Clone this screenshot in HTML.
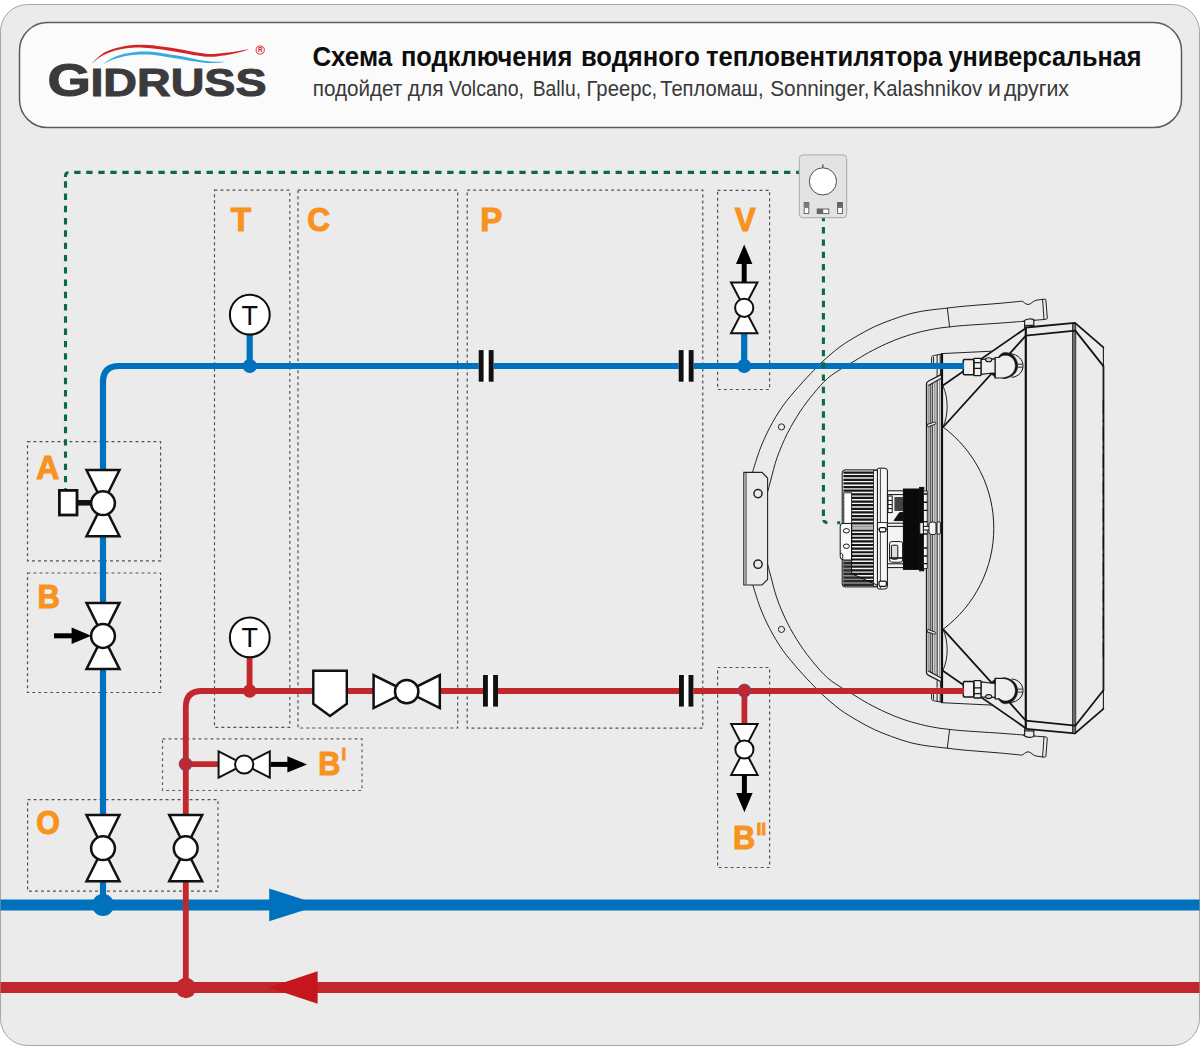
<!DOCTYPE html>
<html lang="ru"><head><meta charset="utf-8"><title>Схема подключения водяного тепловентилятора</title>
<style>html,body{margin:0;padding:0;background:#fff}svg{display:block}text{font-family:"Liberation Sans",sans-serif}</style></head><body>
<svg width="1200" height="1046" viewBox="0 0 1200 1046">
<rect x="0.5" y="4.5" width="1199" height="1041" rx="27" ry="27" fill="#ebebeb" stroke="#a6a6a6" stroke-width="1"/>
<rect x="19.5" y="22.6" width="1162" height="105" rx="28" ry="28" fill="#fbfbfb" stroke="#5c5c5c" stroke-width="1.5"/>
<g id="logo">
<path d="M92.1,63.5 C93.33,62.26 96.73,58.24 99.5,56.08 C102.27,53.91 104.45,52.23 108.7,50.53 C112.95,48.83 119.18,46.86 125,45.89 C130.82,44.92 137.43,44.64 143.6,44.74 C149.77,44.83 155.93,45.69 162,46.46 C168.07,47.23 174.17,48.35 180,49.36 C185.83,50.37 191.72,51.75 197,52.54 C202.28,53.32 206.2,54.12 211.7,54.09 C217.2,54.06 225.28,52.9 230,52.33 C234.72,51.76 236.72,51.25 240,50.68 C243.28,50.1 248.08,49.2 249.7,48.9 L249.7,48.9 C248.08,49.44 243.28,51.2 240,52.12 C236.72,53.05 234.72,53.71 230,54.47 C225.28,55.24 217.2,56.54 211.7,56.71 C206.2,56.88 202.28,56.18 197,55.46 C191.72,54.75 185.83,53.43 180,52.44 C174.17,51.45 168.07,50.34 162,49.54 C155.93,48.74 149.77,47.84 143.6,47.66 C137.43,47.49 130.82,47.68 125,48.51 C119.18,49.34 112.95,51.17 108.7,52.67 C104.45,54.17 102.27,55.72 99.5,57.52 C96.73,59.33 93.33,62.5 92.1,63.5 Z" fill="#d2232a"/>
<path d="M103.2,64 C104.83,62.97 109.43,59.5 113,57.81 C116.57,56.12 120.77,54.83 124.6,53.85 C128.43,52.87 132.05,52.3 136,51.92 C139.95,51.55 143.63,51.37 148.3,51.61 C152.97,51.86 158.72,52.66 164,53.41 C169.28,54.17 174.5,55.12 180,56.12 C185.5,57.13 191.72,58.55 197,59.45 C202.28,60.35 207.02,61.1 211.7,61.51 C216.38,61.92 222.87,61.84 225.1,61.9 L225.1,61.9 C222.87,62.1 216.38,63.11 211.7,63.09 C207.02,63.06 202.28,62.45 197,61.75 C191.72,61.05 185.5,59.77 180,58.88 C174.5,57.98 169.28,57.1 164,56.39 C158.72,55.67 152.97,54.87 148.3,54.59 C143.63,54.3 139.95,54.42 136,54.68 C132.05,54.94 128.43,55.37 124.6,56.15 C120.77,56.94 116.57,58.08 113,59.39 C109.43,60.7 104.83,63.23 103.2,64 Z" fill="#39a9e0"/>
<text transform="translate(47.5,96.3) scale(1.19,1)" font-size="47" font-weight="700" fill="#3b3b3d" stroke="#3b3b3d" stroke-width="1.1">G</text>
<text x="90.4" y="95.8" font-size="38.8" font-weight="700" fill="#3b3b3d" stroke="#3b3b3d" stroke-width="1" textLength="176.2" lengthAdjust="spacingAndGlyphs">IDRUSS</text>
<circle cx="260.2" cy="50" r="4.1" fill="none" stroke="#d2232a" stroke-width="0.9"/>
<text x="260.2" y="52.3" font-size="6.4" font-weight="700" fill="#d2232a" text-anchor="middle">R</text>
</g>
<g id="title"><text x="312.4" y="65.9" font-size="28" font-weight="700" fill="#0d0d0d" textLength="79.8" lengthAdjust="spacingAndGlyphs">Схема</text><text x="401" y="65.9" font-size="28" font-weight="700" fill="#0d0d0d" textLength="171.25" lengthAdjust="spacingAndGlyphs">подключения</text><text x="581" y="65.9" font-size="28" font-weight="700" fill="#0d0d0d" textLength="118.75" lengthAdjust="spacingAndGlyphs">водяного</text><text x="706" y="65.9" font-size="28" font-weight="700" fill="#0d0d0d" textLength="236.25" lengthAdjust="spacingAndGlyphs">тепловентилятора</text><text x="948.5" y="65.9" font-size="28" font-weight="700" fill="#0d0d0d" textLength="193" lengthAdjust="spacingAndGlyphs">универсальная</text></g>
<g id="subtitle"><text x="312.75" y="95.7" font-size="21.3" fill="#383838" textLength="89.5" lengthAdjust="spacingAndGlyphs">подойдет</text><text x="407.75" y="95.7" font-size="21.3" fill="#383838" textLength="35.75" lengthAdjust="spacingAndGlyphs">для</text><text x="449" y="95.7" font-size="21.3" fill="#383838" textLength="75" lengthAdjust="spacingAndGlyphs">Volcano,</text><text x="532.75" y="95.7" font-size="21.3" fill="#383838" textLength="48.25" lengthAdjust="spacingAndGlyphs">Ballu,</text><text x="586.5" y="95.7" font-size="21.3" fill="#383838" textLength="70.75" lengthAdjust="spacingAndGlyphs">Греерс,</text><text x="660.25" y="95.7" font-size="21.3" fill="#383838" textLength="103.25" lengthAdjust="spacingAndGlyphs">Тепломаш,</text><text x="770.25" y="95.7" font-size="21.3" fill="#383838" textLength="99.25" lengthAdjust="spacingAndGlyphs">Sonninger,</text><text x="872.75" y="95.7" font-size="21.3" fill="#383838" textLength="109.5" lengthAdjust="spacingAndGlyphs">Kalashnikov</text><text x="987.75" y="95.7" font-size="21.3" fill="#383838" textLength="13.25" lengthAdjust="spacingAndGlyphs">и</text><text x="1004" y="95.7" font-size="21.3" fill="#383838" textLength="65" lengthAdjust="spacingAndGlyphs">других</text></g>
<g id="boxes">
<rect x="214.5" y="190.2" width="75.3" height="537.2" fill="none" stroke="#505050" stroke-width="1.2" stroke-dasharray="2.9 3.1"/>
<rect x="298" y="190.2" width="159.7" height="537.8" fill="none" stroke="#505050" stroke-width="1.2" stroke-dasharray="2.9 3.1"/>
<rect x="467.2" y="190.2" width="235.6" height="538" fill="none" stroke="#505050" stroke-width="1.2" stroke-dasharray="2.9 3.1"/>
<rect x="717.6" y="190.3" width="52" height="199.2" fill="none" stroke="#505050" stroke-width="1.2" stroke-dasharray="2.9 3.1"/>
<rect x="717.6" y="667.5" width="52" height="200" fill="none" stroke="#505050" stroke-width="1.2" stroke-dasharray="2.9 3.1"/>
<rect x="27.5" y="441.6" width="133.1" height="119.2" fill="none" stroke="#505050" stroke-width="1.2" stroke-dasharray="2.9 3.1"/>
<rect x="27.5" y="573" width="133.1" height="119.5" fill="none" stroke="#505050" stroke-width="1.2" stroke-dasharray="2.9 3.1"/>
<rect x="162.5" y="738.9" width="199.5" height="51.6" fill="none" stroke="#5e5e5e" stroke-width="1.2" stroke-dasharray="2.9 3.1"/>
<rect x="27.6" y="799.6" width="190.4" height="91.5" fill="none" stroke="#505050" stroke-width="1.2" stroke-dasharray="2.9 3.1"/>
</g>
<g id="heater">
<g fill="none" stroke="#1c1c1c" stroke-linecap="butt">
<path d="M1025.8,327.5 V728.8" stroke-width="2.2" stroke="#141414"/>
<path d="M1072.6,323.2 V733.2" stroke-width="1.2" stroke="#333"/>
<path d="M1075.6,323 V733.4" stroke-width="1.2" stroke="#333"/>
<path d="M1074.1,324 V732" stroke-width="2.6" stroke="#6c6c6c"/>
<path d="M1103.4,347.4 V708.9" stroke-width="1.1"/><path d="M1103.5,366 V690.3" stroke-width="1.7"/>
<path d="M1103.4,400 V660" stroke-width="1.3" stroke-dasharray="14 5 3 5" stroke="#111"/>
<path d="M942,353.6 V702.7" stroke-width="2.2" stroke="#111"/>
<path d="M943,427 A126.1,126.1 0 0 1 943,629.3" stroke-width="1"/>
</g>
<g fill="none" stroke="#222" stroke-width="1" stroke-linecap="round" stroke-linejoin="round"><path d="M752.5,472.4 C753.73,468.58 757.03,456.95 759.9,449.5 C762.77,442.05 765.87,434.97 769.7,427.7 C773.53,420.43 778.03,412.78 782.9,405.9 C787.77,399.02 793.75,392.33 798.9,386.4 C804.05,380.47 809.78,374.52 813.8,370.3 C817.82,366.08 818.63,365.02 823,361.1 C827.37,357.18 834.3,351 840,346.8 C845.7,342.6 851.47,339.25 857.2,335.9 C862.93,332.55 868.67,329.38 874.4,326.7 C880.13,324.02 885.87,321.9 891.6,319.8 C897.33,317.7 903.07,315.63 908.8,314.1 C914.53,312.57 919.58,311.6 926,310.6 C932.42,309.6 941.63,308.77 947.3,308.1 C952.97,307.43 954.55,307.13 960,306.6 C965.45,306.07 973.33,305.45 980,304.9 C986.67,304.35 993.08,303.92 1000,303.3 C1006.92,302.68 1017.92,301.55 1021.5,301.2 C1023.5,301 1025,304.4 1028,304.5 C1031,304.6 1033,300.7 1036,300.3 L1042.5,299.3 L1045,299.2 Q1045.8,299.2 1045.9,300 L1047.3,318 Q1047.4,318.9 1046.4,319.1 L1044,319.5 L1034,320.3"/><path d="M1042.6,299.5 L1044,319.4"/><path d="M767.6,492 C768.13,490 769.22,485.75 770.8,480 C772.38,474.25 774.33,465.27 777.1,457.5 C779.87,449.73 783.57,441.05 787.4,433.4 C791.23,425.75 795.7,418.28 800.1,411.6 C804.5,404.92 809.22,398.83 813.8,393.3 C818.38,387.77 822.82,382.62 827.6,378.4 C832.38,374.18 837.92,370.97 842.5,368 C847.08,365.03 850.73,363.18 855.1,360.6 C859.47,358.02 863.57,355.28 868.7,352.5 C873.83,349.72 880.17,346.48 885.9,343.9 C891.63,341.32 897.37,339 903.1,337 C908.83,335 914.57,333.33 920.3,331.9 C926.03,330.47 932.62,329.23 937.5,328.4 C942.38,327.57 945.85,327.33 949.6,326.9 C953.35,326.47 954.93,326.22 960,325.8 C965.07,325.38 973.33,324.85 980,324.4 C986.67,323.95 992.75,323.62 1000,323.1 C1007.25,322.58 1019.58,321.6 1023.5,321.3"/><path d="M947.3,308.1 L949.6,326.9"/><path d="M1024.6,321.4 V327.4 M1033.8,320.4 V326.8 M1023.5,321.3 C1026,318.5 1032,318.3 1034.4,320.3 M1024.6,325.7 L1033.8,325.1" stroke-width="1.2"/><circle cx="781.5" cy="426.9" r="3.1"/><path d="M1025.8,327.5 L1075,322.9 L1103.4,347.4" stroke-width="1.8" stroke="#141414"/><path d="M1025.8,335.6 L1075.3,330.6 L1103.4,366.1" stroke-width="1.8" stroke="#141414"/><path d="M942.5,385.8 L1025.4,328.4" stroke-width="1.8" stroke="#141414"/><path d="M943.2,427 L1025.4,336.2" stroke-width="1.8" stroke="#141414"/><path d="M941.4,353.6 L991.8,351.2"/><path d="M943,386 C948.6,398 948.6,415 943,427"/><path d="M931.6,363 V357.4 C931.6,355.8 933.2,355.6 934.6,355.4 L941,354.2 M933.6,357 V363 M937.1,355.4 V363 M940.2,354.6 V363 M937.1,369 V375.6 M940.4,369 V375" stroke="#1e1e1e"/><path d="M930.2,383.8 L937.2,380.4 V528.5 H930.2 Z" fill="#d6d6d6" stroke="none"/><path d="M926.5,528.5 V383.6 C926.5,382.2 927.4,381.6 928.6,381 L940.6,374.8" stroke="#1a1a1a" stroke-width="1.3"/><path d="M928.4,385.4 L940.8,378.6" stroke="#1a1a1a" stroke-width="1.1"/><path d="M930.2,528.5 V384.4 M932.3,528.5 V383.4 M937.2,528.5 V381" stroke="#262626" stroke-width="1"/><path d="M928.3,528.5 V385.4 M934.8,528.5 V382.4 M939.7,528.5 V379.6" stroke="#6a6a6a" stroke-width="0.8"/><path d="M927.4,424.4 L934.6,422 C935.8,421.8 936.2,423.6 935.2,424.2 L928.2,426.8 C927,427 926.6,425 927.4,424.4 Z" fill="#ebebeb"/></g><g fill="#efefef" stroke="#161616" stroke-width="1.1" stroke-linejoin="round"><path d="M1010.3,353.7 C1018,354.5 1023,359.5 1023,365.7 C1023,372 1018.5,376.6 1011.7,377.4" fill="none" stroke-width="1"/><path d="M1017.8,364.2 H1022.8 M1017.8,367.2 H1022.8" fill="none" stroke-width="0.9"/><path d="M995,357.5 L998.3,357.5 C1000,354 1003,353 1005.5,353 C1012.5,353 1017,358.5 1017,365.7 C1017,373 1011,378 1003,378.3 L995,378 Z" stroke="none"/><path d="M998.3,357.3 C1000,354.2 1002.5,352.5 1005.5,352.5 C1012.5,352.7 1017.7,358.5 1017.7,365.7 C1017.7,373 1011.5,378.3 1003,378.7 L1003,377.7 C1010,377.1 1015.3,372.4 1015.3,365.7 C1015.3,359.4 1011,355.5 1005.5,355.3 C1003,355.3 1001,356.1 999.6,357.7 Z" fill="#141414" stroke-width="0.5"/><path d="M999,357.5 H995 V378 H1003" fill="none" stroke-width="1.2"/><path d="M981,359.4 L995,358.9 V373.2 L990.4,373.3 L981,374.4 Z"/><path d="M990.3,373.2 L995.2,373.2 L995.6,377.4 L993.2,375.6 Z" fill="#141414" stroke-width="0.6"/><ellipse cx="988.7" cy="359.7" rx="3.1" ry="2" fill="#d9d9d9"/><rect x="973.8" y="358.3" width="7.2" height="17.4" rx="0.8" stroke-width="1.3"/><path d="M973.8,362.6 H981 M973.8,368.4 H981" fill="none" stroke-width="1.2"/><rect x="963.3" y="359.4" width="10.5" height="15.3" rx="1.2" stroke-width="1.5"/></g>
<g transform="translate(0,1056.3) scale(1,-1)"><g fill="none" stroke="#222" stroke-width="1" stroke-linecap="round" stroke-linejoin="round"><path d="M752.5,472.4 C753.73,468.58 757.03,456.95 759.9,449.5 C762.77,442.05 765.87,434.97 769.7,427.7 C773.53,420.43 778.03,412.78 782.9,405.9 C787.77,399.02 793.75,392.33 798.9,386.4 C804.05,380.47 809.78,374.52 813.8,370.3 C817.82,366.08 818.63,365.02 823,361.1 C827.37,357.18 834.3,351 840,346.8 C845.7,342.6 851.47,339.25 857.2,335.9 C862.93,332.55 868.67,329.38 874.4,326.7 C880.13,324.02 885.87,321.9 891.6,319.8 C897.33,317.7 903.07,315.63 908.8,314.1 C914.53,312.57 919.58,311.6 926,310.6 C932.42,309.6 941.63,308.77 947.3,308.1 C952.97,307.43 954.55,307.13 960,306.6 C965.45,306.07 973.33,305.45 980,304.9 C986.67,304.35 993.08,303.92 1000,303.3 C1006.92,302.68 1017.92,301.55 1021.5,301.2 C1023.5,301 1025,304.4 1028,304.5 C1031,304.6 1033,300.7 1036,300.3 L1042.5,299.3 L1045,299.2 Q1045.8,299.2 1045.9,300 L1047.3,318 Q1047.4,318.9 1046.4,319.1 L1044,319.5 L1034,320.3"/><path d="M1042.6,299.5 L1044,319.4"/><path d="M767.6,492 C768.13,490 769.22,485.75 770.8,480 C772.38,474.25 774.33,465.27 777.1,457.5 C779.87,449.73 783.57,441.05 787.4,433.4 C791.23,425.75 795.7,418.28 800.1,411.6 C804.5,404.92 809.22,398.83 813.8,393.3 C818.38,387.77 822.82,382.62 827.6,378.4 C832.38,374.18 837.92,370.97 842.5,368 C847.08,365.03 850.73,363.18 855.1,360.6 C859.47,358.02 863.57,355.28 868.7,352.5 C873.83,349.72 880.17,346.48 885.9,343.9 C891.63,341.32 897.37,339 903.1,337 C908.83,335 914.57,333.33 920.3,331.9 C926.03,330.47 932.62,329.23 937.5,328.4 C942.38,327.57 945.85,327.33 949.6,326.9 C953.35,326.47 954.93,326.22 960,325.8 C965.07,325.38 973.33,324.85 980,324.4 C986.67,323.95 992.75,323.62 1000,323.1 C1007.25,322.58 1019.58,321.6 1023.5,321.3"/><path d="M947.3,308.1 L949.6,326.9"/><path d="M1024.6,321.4 V327.4 M1033.8,320.4 V326.8 M1023.5,321.3 C1026,318.5 1032,318.3 1034.4,320.3 M1024.6,325.7 L1033.8,325.1" stroke-width="1.2"/><circle cx="781.5" cy="426.9" r="3.1"/><path d="M1025.8,327.5 L1075,322.9 L1103.4,347.4" stroke-width="1.8" stroke="#141414"/><path d="M1025.8,335.6 L1075.3,330.6 L1103.4,366.1" stroke-width="1.8" stroke="#141414"/><path d="M942.5,385.8 L1025.4,328.4" stroke-width="1.8" stroke="#141414"/><path d="M943.2,427 L1025.4,336.2" stroke-width="1.8" stroke="#141414"/><path d="M941.4,353.6 L991.8,351.2"/><path d="M943,386 C948.6,398 948.6,415 943,427"/><path d="M931.6,363 V357.4 C931.6,355.8 933.2,355.6 934.6,355.4 L941,354.2 M933.6,357 V363 M937.1,355.4 V363 M940.2,354.6 V363 M937.1,369 V375.6 M940.4,369 V375" stroke="#1e1e1e"/><path d="M930.2,383.8 L937.2,380.4 V528.5 H930.2 Z" fill="#d6d6d6" stroke="none"/><path d="M926.5,528.5 V383.6 C926.5,382.2 927.4,381.6 928.6,381 L940.6,374.8" stroke="#1a1a1a" stroke-width="1.3"/><path d="M928.4,385.4 L940.8,378.6" stroke="#1a1a1a" stroke-width="1.1"/><path d="M930.2,528.5 V384.4 M932.3,528.5 V383.4 M937.2,528.5 V381" stroke="#262626" stroke-width="1"/><path d="M928.3,528.5 V385.4 M934.8,528.5 V382.4 M939.7,528.5 V379.6" stroke="#6a6a6a" stroke-width="0.8"/><path d="M927.4,424.4 L934.6,422 C935.8,421.8 936.2,423.6 935.2,424.2 L928.2,426.8 C927,427 926.6,425 927.4,424.4 Z" fill="#ebebeb"/></g><g fill="#efefef" stroke="#161616" stroke-width="1.1" stroke-linejoin="round"><path d="M1010.3,353.7 C1018,354.5 1023,359.5 1023,365.7 C1023,372 1018.5,376.6 1011.7,377.4" fill="none" stroke-width="1"/><path d="M1017.8,364.2 H1022.8 M1017.8,367.2 H1022.8" fill="none" stroke-width="0.9"/><path d="M995,357.5 L998.3,357.5 C1000,354 1003,353 1005.5,353 C1012.5,353 1017,358.5 1017,365.7 C1017,373 1011,378 1003,378.3 L995,378 Z" stroke="none"/><path d="M998.3,357.3 C1000,354.2 1002.5,352.5 1005.5,352.5 C1012.5,352.7 1017.7,358.5 1017.7,365.7 C1017.7,373 1011.5,378.3 1003,378.7 L1003,377.7 C1010,377.1 1015.3,372.4 1015.3,365.7 C1015.3,359.4 1011,355.5 1005.5,355.3 C1003,355.3 1001,356.1 999.6,357.7 Z" fill="#141414" stroke-width="0.5"/><path d="M999,357.5 H995 V378 H1003" fill="none" stroke-width="1.2"/><path d="M981,359.4 L995,358.9 V373.2 L990.4,373.3 L981,374.4 Z"/><path d="M990.3,373.2 L995.2,373.2 L995.6,377.4 L993.2,375.6 Z" fill="#141414" stroke-width="0.6"/><ellipse cx="988.7" cy="359.7" rx="3.1" ry="2" fill="#d9d9d9"/><rect x="973.8" y="358.3" width="7.2" height="17.4" rx="0.8" stroke-width="1.3"/><path d="M973.8,362.6 H981 M973.8,368.4 H981" fill="none" stroke-width="1.2"/><rect x="963.3" y="359.4" width="10.5" height="15.3" rx="1.2" stroke-width="1.5"/></g></g>
<g stroke="#222" stroke-width="1.1" fill="#ebebeb">
<path d="M743.8,472.4 H762 L767.6,478 V579.4 L762,585 H743.8 Z"/>
<path d="M746,473 V584.4" fill="none" stroke-width="0.9"/>
<circle cx="758" cy="493.6" r="4.1" stroke-width="1.5"/>
<circle cx="758" cy="564.2" r="4.1" stroke-width="1.5"/>
</g>
<g id="motor" stroke="#111" stroke-width="1" fill="#ebebeb">
<rect x="887.3" y="490.8" width="16.4" height="76.8" fill="#f4f4f4"/>
<path d="M887.3,494.6 H903.6 M887.3,563.8 H903.6 M887.3,523.2 H903.6 M887.3,526.4 H903.6" fill="none"/>
<rect x="888" y="496" width="4.2" height="16.6" fill="#fff"/>
<path d="M888,500.4 H892.2 M888,504.6 H892.2 M888,508.6 H892.2" fill="none"/>
<path d="M894.4,497 H903 V511 H894.4 Z" fill="#444" stroke="none"/>
<path d="M894,520.6 L899.6,512.6 H903.6 V520.6 Z" fill="#111"/>
<rect x="889.6" y="541.6" width="13" height="20.6" rx="2.2" fill="#fff"/>
<rect x="891.4" y="545.2" width="6.4" height="14" rx="1" fill="#ddd"/>
<path d="M889.6,558 H902.6" fill="none" stroke-width="1.6"/>
<rect x="903.4" y="489" width="18.4" height="80.4" fill="#0a0a0a"/>
<rect x="919.6" y="487.4" width="4.2" height="83.4" fill="#0a0a0a"/>
<rect x="923.6" y="491" width="3.6" height="77.4" fill="#f6f6f6" stroke-width="0.8"/>
<path d="M923.6,494 H927.2 M923.6,502.2 H927.2 M923.6,510.4 H927.2 M923.6,521.6 H927.2 M923.6,534 H927.2 M923.6,548 H927.2 M923.6,556 H927.2 M923.6,563.6 H927.2" fill="none" stroke-width="1.4"/>
<rect x="919.8" y="522.6" width="3.6" height="11.4" fill="#f4f4f4"/>
<rect x="923.4" y="526.4" width="7" height="3.6" fill="#f4f4f4"/>
<path d="M929,523.4 C931,521.6 934,521.6 936,523 L936,533.6 C934,535 931,535 929,533.2 Z" fill="#f4f4f4"/>
<rect x="937" y="521.8" width="3.4" height="12.4" rx="1.2" fill="#f4f4f4"/>
<path d="M845,469.9 H877.4 V586.9 H845 Q842.2,586.9 842.2,584 V472.8 Q842.2,469.9 845,469.9 Z" fill="#f2f2f2"/>
<path d="M843.4,472.6 H873.6 M843.4,476.22 H873.6 M843.4,479.84 H873.6 M843.4,483.46 H873.6 M843.4,487.08 H873.6 M843.4,490.7 H873.6 M843.4,494.32 H873.6 M843.4,497.94 H873.6 M843.4,501.56 H873.6 M843.4,505.18 H873.6 M843.4,508.8 H873.6 M843.4,512.42 H873.6 M843.4,516.04 H873.6 M843.4,519.66 H873.6 M843.4,523.28 H873.6 M843.4,526.9 H873.6 M843.4,530.52 H873.6 M843.4,534.14 H873.6 M843.4,537.76 H873.6 M843.4,541.38 H873.6 M843.4,545 H873.6 M843.4,548.62 H873.6 M843.4,552.24 H873.6 M843.4,555.86 H873.6 M843.4,559.48 H873.6 M843.4,563.1 H873.6 M843.4,566.72 H873.6 M843.4,570.34 H873.6 M843.4,573.96 H873.6 M843.4,577.58 H873.6 M843.4,581.2 H873.6 M843.4,584.82 H873.6" fill="none" stroke="#161616" stroke-width="2.2"/>
<rect x="851.8" y="526.2" width="22" height="3.2" fill="#b9b9b9" stroke="none"/>
<rect x="873.6" y="470.6" width="3.8" height="115.6" fill="#f4f4f4" stroke-width="0.8"/>
<path d="M877.4,469.2 Q877.4,468.2 879,468.2 H884.8 Q887.4,468.2 887.4,471 V586.2 Q887.4,589 884.8,589 H879 Q877.4,589 877.4,587.8 Z" fill="#f6f6f6"/>
<path d="M880.4,469 V588.4" fill="none" stroke-width="0.8"/>
<rect x="877.6" y="522.6" width="9.6" height="6.6" fill="#fff" stroke-width="0.9"/>
<rect x="879.4" y="527.6" width="6.4" height="4.2" rx="1.4" fill="#fff" stroke-width="1.2"/>
<rect x="879" y="581.2" width="7.4" height="5.2" rx="1.6" fill="#fff" stroke-width="1.2"/>
<rect x="843.8" y="492.8" width="7.8" height="30.8" fill="#fff" stroke="#222" stroke-width="0.9"/>
<path d="M842.8,523.4 H851.6 V560 H844 Q840.2,560 840.2,556.4 V526.2 Q840.2,523.4 842.8,523.4 Z" fill="#fafafa" stroke-width="1"/>
<ellipse cx="846.4" cy="530.8" rx="3" ry="2.2" fill="#fff"/>
<ellipse cx="846.4" cy="546.2" rx="3" ry="2.2" fill="#fff"/>
<path d="M840.4,553.6 C842.4,552.6 843.2,555 842.6,558.6" fill="none"/>
<path d="M843,560 H851.6 V573.6 L873.6,583.4 V586.2 H845 Q843,586.2 843,584 Z" fill="#3a3a3a" stroke="none" opacity="0.55"/>
<path d="M851.6,523.6 V573.6 L877,585" fill="none" stroke-width="1"/>
</g>
</g>
<g id="pipes" fill="none">
<path d="M103,905 V382 Q103,366 119,366 H964" stroke="#0071bc" stroke-width="6.2"/>
<path d="M249.7,334 V366 M744.2,332 V366" stroke="#0071bc" stroke-width="6.2"/>
<path d="M0.5,904.9 H1199.5" stroke="#0071bc" stroke-width="11"/>
<path d="M269.2,888.6 V921.2 L320.4,904.9 Z" fill="#0071bc"/>
<circle cx="249.8" cy="366" r="7.1" fill="#0071bc"/>
<circle cx="744.2" cy="366" r="7.1" fill="#0071bc"/>
<circle cx="103" cy="905" r="11" fill="#0071bc"/>
<path d="M185.8,988 V707 Q185.8,691 201.8,691 H964" stroke="#c1272d" stroke-width="5.8"/>
<path d="M249.6,657 V691 M185.8,764.2 H219 M744.4,691 V725" stroke="#c1272d" stroke-width="5.8"/>
<path d="M0.5,987.4 H1199.5" stroke="#c1272d" stroke-width="11"/>
<path d="M317.6,971.2 V1003.8 L268.8,987.4 Z" fill="#c4161c"/>
<circle cx="249.7" cy="691" r="6.7" fill="#c1272d"/>
<circle cx="185.6" cy="764.1" r="6.5" fill="#c1272d" stroke="#5c4a96" stroke-width="0.8"/>
<circle cx="744.4" cy="690.6" r="6.5" fill="#c1272d" stroke="#5c4a96" stroke-width="0.8"/>
<circle cx="185.9" cy="988" r="10.2" fill="#c1272d"/>
</g>
<g fill="none" stroke="#0b6a41" stroke-width="3.1">
<path d="M799.1,172.4 H69 Q65.5,172.4 65.5,176 V177" stroke-dasharray="6.3 5.73" stroke-dashoffset="3.25"/>
<path d="M65.5,181.25 V489.6" stroke-dasharray="6.4 5.88"/>
<path d="M823.4,217.8 V516.4" stroke-dasharray="6.4 5.88" stroke-dashoffset="2.98"/>
<path d="M823.9,520 Q824,522.5 827.4,522.6 M837.2,522.7 H840.2" stroke-linecap="butt"/>
</g>
<g id="thermostat">
<rect x="799.3" y="154.9" width="47.4" height="62.8" rx="3.6" fill="#e3e3e3" stroke="#a9a9a9" stroke-width="1"/>
<path d="M822.9,164.4 V168" stroke="#444" stroke-width="1.2"/>
<circle cx="822.9" cy="181.4" r="13.6" fill="#fff" stroke="#4d4d4d" stroke-width="1"/>
<rect x="804.2" y="202.5" width="4.6" height="11" fill="#fff" stroke="#555" stroke-width="0.9"/>
<rect x="804.2" y="202.5" width="4.6" height="5.4" fill="#777"/>
<rect x="837.6" y="202.5" width="4.8" height="11" fill="#fff" stroke="#555" stroke-width="0.9"/>
<rect x="837.6" y="202.5" width="4.8" height="5.4" fill="#666"/>
<rect x="817.2" y="209" width="11.6" height="4.6" fill="#fff" stroke="#555" stroke-width="0.9"/>
<rect x="817.2" y="209" width="6" height="4.6" fill="#666"/>
</g>
<g id="symbols">
<rect x="478.7" y="350.1" width="14.9" height="31.6" fill="#fff"/><rect x="478.7" y="350.1" width="4.9" height="31.6" fill="#111"/><rect x="488.7" y="350.1" width="4.9" height="31.6" fill="#111"/>
<rect x="678.7" y="350.1" width="14.9" height="31.6" fill="#fff"/><rect x="678.7" y="350.1" width="4.9" height="31.6" fill="#111"/><rect x="688.7" y="350.1" width="4.9" height="31.6" fill="#111"/>
<rect x="483" y="675" width="15" height="31.6" fill="#fff"/><rect x="483" y="675" width="4.9" height="31.6" fill="#111"/><rect x="493.1" y="675" width="4.9" height="31.6" fill="#111"/>
<rect x="679" y="675" width="14.4" height="31.6" fill="#fff"/><rect x="679" y="675" width="4.9" height="31.6" fill="#111"/><rect x="688.5" y="675" width="4.9" height="31.6" fill="#111"/>
<g stroke="#111" stroke-width="2.5" fill="#fff" stroke-linejoin="miter"><path d="M86.5,470.1 H119.5 L103,503.2 Z"/><path d="M86.5,536.3 H119.5 L103,503.2 Z"/><circle cx="103" cy="503.2" r="11.9"/></g>
<g stroke="#111" stroke-width="2.5" fill="#fff" stroke-linejoin="miter"><path d="M86.5,602.9 H119.5 L103,636 Z"/><path d="M86.5,669.1 H119.5 L103,636 Z"/><circle cx="103" cy="636" r="11.9"/></g>
<g stroke="#111" stroke-width="2.5" fill="#fff" stroke-linejoin="miter"><path d="M86.5,815.1 H119.5 L103,848.2 Z"/><path d="M86.5,881.3 H119.5 L103,848.2 Z"/><circle cx="103" cy="848.2" r="11.9"/></g>
<g stroke="#111" stroke-width="2.5" fill="#fff" stroke-linejoin="miter"><path d="M169.2,815.1 H202.2 L185.7,848.2 Z"/><path d="M169.2,881.3 H202.2 L185.7,848.2 Z"/><circle cx="185.7" cy="848.2" r="11.9"/></g>
<g stroke="#111" stroke-width="2.5" fill="#fff" stroke-linejoin="miter"><path d="M373.6,675.1 V708.1 L406.7,691.6 Z"/><path d="M439.8,675.1 V708.1 L406.7,691.6 Z"/><circle cx="406.7" cy="691.6" r="11.7"/></g>
<g stroke="#111" stroke-width="2" fill="#fff" stroke-linejoin="miter"><path d="M731,282.4 H757.4 L744.2,307.8 Z"/><path d="M731,333.2 H757.4 L744.2,307.8 Z"/><circle cx="744.2" cy="307.8" r="9.1"/></g>
<g stroke="#111" stroke-width="2" fill="#fff" stroke-linejoin="miter"><path d="M731.2,724.1 H757.6 L744.4,749.5 Z"/><path d="M731.2,774.9 H757.6 L744.4,749.5 Z"/><circle cx="744.4" cy="749.5" r="9.1"/></g>
<g stroke="#111" stroke-width="2" fill="#fff" stroke-linejoin="miter"><path d="M218.6,751.3 V777.7 L244.2,764.5 Z"/><path d="M269.8,751.3 V777.7 L244.2,764.5 Z"/><circle cx="244.2" cy="764.5" r="9.1"/></g>
<path d="M78,502.8 H91" stroke="#111" stroke-width="5.6"/>
<rect x="59.4" y="490.4" width="17.6" height="24.6" fill="#fff" stroke="#111" stroke-width="2.8"/>
<path d="M54,635.8 H73" stroke="#000" stroke-width="5"/><path d="M71.6,627.6 L91.2,635.8 L71.6,644 Z" fill="#000"/>
<path d="M744.2,282 V262" stroke="#000" stroke-width="5"/><path d="M736,264 L744.2,244.6 L752.4,264 Z" fill="#000"/>
<path d="M744.4,775 V795" stroke="#000" stroke-width="5"/><path d="M736.2,793 L744.4,812.2 L752.6,793 Z" fill="#000"/>
<path d="M270.6,764.4 H289" stroke="#000" stroke-width="5"/><path d="M287.4,756.2 L307,764.4 L287.4,772.6 Z" fill="#000"/>
<path d="M313.3,670.8 H346.8 V703.8 L330,716 L313.3,703.8 Z" fill="#fff" stroke="#111" stroke-width="2.4" stroke-linejoin="miter"/>
<circle cx="249.8" cy="314.7" r="19.9" fill="#fff" stroke="#0d0d0d" stroke-width="2"/>
<text x="249.8" y="324.7" font-size="27" fill="#0d0d0d" text-anchor="middle">T</text>
<circle cx="249.8" cy="637.4" r="19.9" fill="#fff" stroke="#0d0d0d" stroke-width="2"/>
<text x="249.8" y="647.4" font-size="27" fill="#0d0d0d" text-anchor="middle">T</text>
</g>
<g id="labels" font-weight="700" fill="#f7931e" stroke="#f7931e" stroke-width="1.1" stroke-linejoin="miter" font-size="33.4">
<text transform="translate(36.15,478.5) scale(0.96,1)">A</text>
<text transform="translate(37.6,608.2) scale(0.93,1)">B</text>
<text transform="translate(36.3,833.6) scale(0.91,1)">O</text>
<text transform="translate(230.68,231.2) scale(1,1)">T</text>
<text transform="translate(307.2,231) scale(0.95,1)">C</text>
<text transform="translate(480.3,231.2) scale(0.99,1)">P</text>
<text transform="translate(734.64,231.2) scale(0.94,1)">V</text>
<text transform="translate(318.2,774.8) scale(0.92,1)">B</text>
<text transform="translate(341.5,759.6) scale(1,1)" font-size="16.8" stroke-width="0.9">I</text>
<text transform="translate(733,848.7) scale(0.92,1)">B</text>
<text transform="translate(756.4,834.6) scale(1.1,1)" font-size="16" stroke-width="0.8">II</text>
</g>
</svg></body></html>
